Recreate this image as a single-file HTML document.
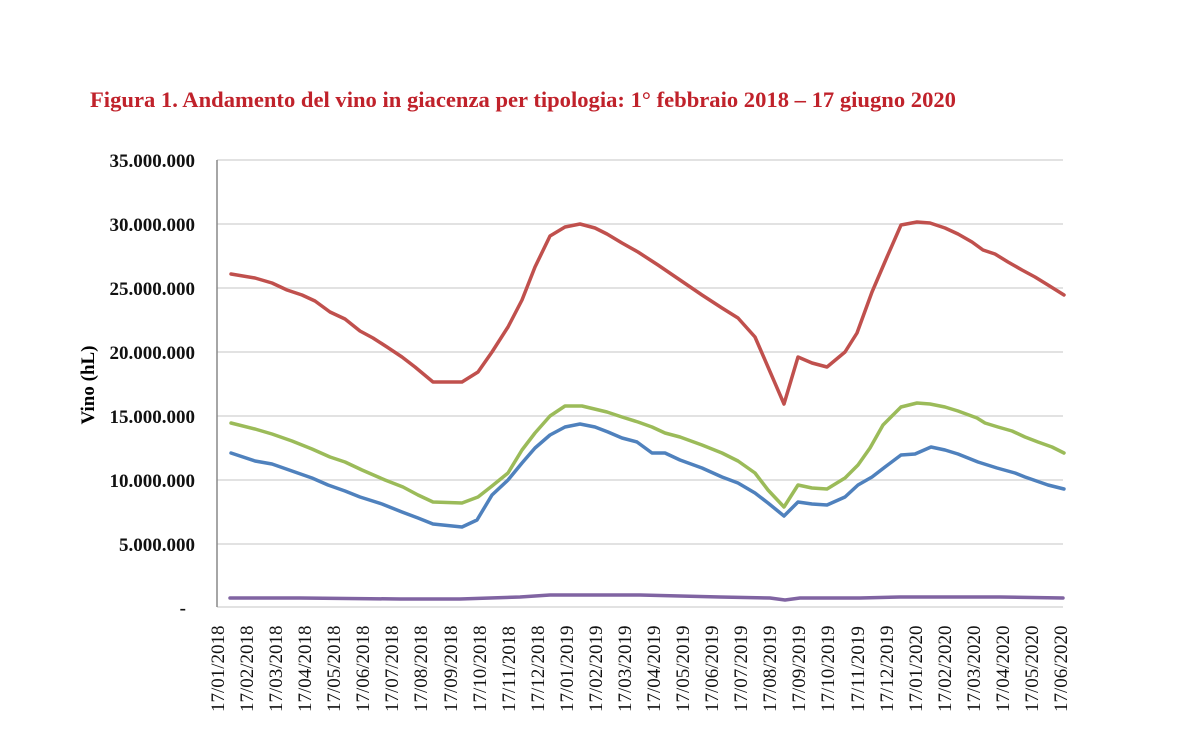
<!DOCTYPE html>
<html><head><meta charset="utf-8"><style>
body{margin:0;background:#fff;width:1200px;height:750px;overflow:hidden}
svg{font-family:"Liberation Serif",serif}
</style></head><body>
<svg width="1200" height="750" viewBox="0 0 1200 750">
<text x="90" y="107" font-size="22.6" font-weight="bold" fill="#c0222b">Figura 1. Andamento del vino in giacenza per tipologia: 1° febbraio 2018 – 17 giugno 2020</text>
<g stroke="#d9d9d9" stroke-width="1.5">
<line x1="217" x2="1063" y1="160" y2="160"/><line x1="217" x2="1063" y1="224" y2="224"/><line x1="217" x2="1063" y1="288" y2="288"/><line x1="217" x2="1063" y1="352" y2="352"/><line x1="217" x2="1063" y1="416" y2="416"/><line x1="217" x2="1063" y1="480" y2="480"/><line x1="217" x2="1063" y1="544" y2="544"/><line x1="217" x2="1063" y1="607" y2="607"/>
</g>
<line x1="217" x2="217" y1="160" y2="607" stroke="#888" stroke-width="1.5"/>
<g font-size="19" font-weight="bold" text-anchor="end" fill="#111">
<text x="195" y="167">35.000.000</text><text x="195" y="231">30.000.000</text><text x="195" y="295">25.000.000</text><text x="195" y="359">20.000.000</text><text x="195" y="423">15.000.000</text><text x="195" y="487">10.000.000</text><text x="195" y="551">5.000.000</text><text x="186" y="614">-</text>
</g>
<text transform="translate(94,385) rotate(-90)" font-size="19" font-weight="bold" text-anchor="middle">Vino (hL)</text>
<g fill="none" stroke-width="3.5" stroke-linejoin="round" stroke-linecap="round">
<polyline stroke="#c0504d" points="231,274 255,278 272,283 287,290 302,295 315,301 330,312 345,319 360,331 373,338 387,347 402,357 415,367 433,382 462,382 478,372 492,352 508,327 522,300 535,267 550,236 565,227 580,224 595,228 607,234 622,243 638,252 658,265 680,280 702,295 722,308 738,318 755,337 768,367 784,404 798,357 812,363 827,367 845,352 857,333 872,292 887,257 901,225 917,222 930,223 945,228 958,234 972,242 983,250 995,254 1008,262 1022,270 1035,277 1048,285 1064,295"/>
<polyline stroke="#9bbb59" points="231,423 255,429 272,434 292,441 312,449 330,457 345,462 362,470 385,480 403,487 418,495 433,502 462,503 478,497 492,486 508,473 522,450 535,433 550,416 565,406 582,406 607,412 622,417 638,422 652,427 665,433 680,437 702,445 722,453 738,461 755,473 768,490 784,507 798,485 812,488 827,489 845,478 858,465 870,448 883,425 901,407 917,403 930,404 945,407 958,411 977,418 985,423 998,427 1012,431 1025,437 1038,442 1052,447 1064,453"/>
<polyline stroke="#4f81bd" points="231,453 255,461 272,464 292,471 312,478 328,485 345,491 360,497 382,504 402,512 418,518 433,524 462,527 477,520 492,495 508,480 522,463 535,448 550,435 565,427 580,424 595,427 608,432 622,438 637,442 652,453 665,453 680,460 702,468 722,477 738,483 755,493 768,503 784,516 798,502 812,504 827,505 845,497 858,485 872,477 885,467 901,455 915,454 931,447 945,450 958,454 978,462 997,468 1015,473 1025,477 1048,485 1064,489"/>
<polyline stroke="#8064a2" points="230,598 300,598 400,599 460,599 520,597 550,595 640,595 720,597 770,598 785,600 800,598 860,598 900,597 1000,597 1063,598"/>
</g>
<g font-size="19" fill="#111">
<text transform="translate(224,712) rotate(-90)">17/01/2018</text>
<text transform="translate(253,712) rotate(-90)">17/02/2018</text>
<text transform="translate(282,712) rotate(-90)">17/03/2018</text>
<text transform="translate(311,712) rotate(-90)">17/04/2018</text>
<text transform="translate(340,712) rotate(-90)">17/05/2018</text>
<text transform="translate(369,712) rotate(-90)">17/06/2018</text>
<text transform="translate(398,712) rotate(-90)">17/07/2018</text>
<text transform="translate(427,712) rotate(-90)">17/08/2018</text>
<text transform="translate(457,712) rotate(-90)">17/09/2018</text>
<text transform="translate(486,712) rotate(-90)">17/10/2018</text>
<text transform="translate(515,712) rotate(-90)">17/11/2018</text>
<text transform="translate(544,712) rotate(-90)">17/12/2018</text>
<text transform="translate(573,712) rotate(-90)">17/01/2019</text>
<text transform="translate(602,712) rotate(-90)">17/02/2019</text>
<text transform="translate(631,712) rotate(-90)">17/03/2019</text>
<text transform="translate(660,712) rotate(-90)">17/04/2019</text>
<text transform="translate(689,712) rotate(-90)">17/05/2019</text>
<text transform="translate(718,712) rotate(-90)">17/06/2019</text>
<text transform="translate(747,712) rotate(-90)">17/07/2019</text>
<text transform="translate(776,712) rotate(-90)">17/08/2019</text>
<text transform="translate(805,712) rotate(-90)">17/09/2019</text>
<text transform="translate(834,712) rotate(-90)">17/10/2019</text>
<text transform="translate(864,712) rotate(-90)">17/11/2019</text>
<text transform="translate(893,712) rotate(-90)">17/12/2019</text>
<text transform="translate(922,712) rotate(-90)">17/01/2020</text>
<text transform="translate(951,712) rotate(-90)">17/02/2020</text>
<text transform="translate(980,712) rotate(-90)">17/03/2020</text>
<text transform="translate(1009,712) rotate(-90)">17/04/2020</text>
<text transform="translate(1038,712) rotate(-90)">17/05/2020</text>
<text transform="translate(1067,712) rotate(-90)">17/06/2020</text>
</g>
</svg>
</body></html>
